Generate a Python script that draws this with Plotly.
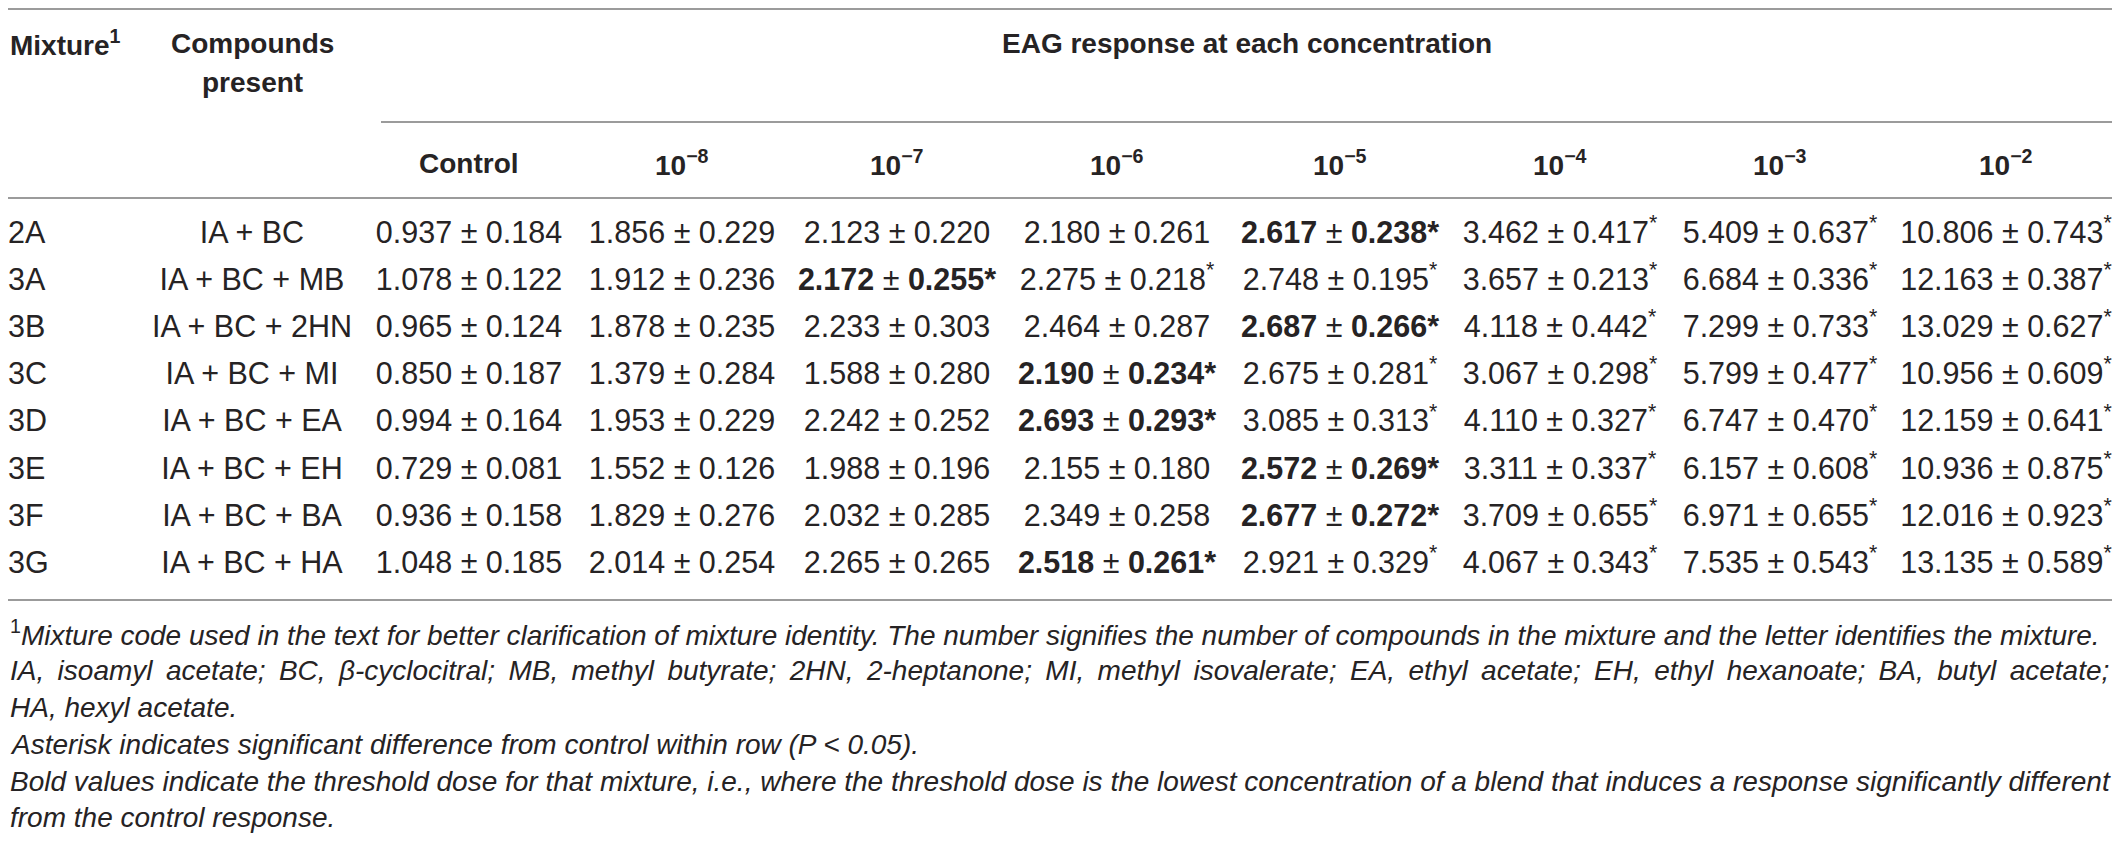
import plotly.graph_objects as go

# table content
mixtures = ["2A", "3A", "3B", "3C", "3D", "3E", "3F", "3G"]
compounds = ["IA + BC", "IA + BC + MB", "IA + BC + 2HN", "IA + BC + MI",
             "IA + BC + EA", "IA + BC + EH", "IA + BC + BA", "IA + BC + HA"]
conc_labels = ["Control", "10<sup>−8</sup>", "10<sup>−7</sup>", "10<sup>−6</sup>",
               "10<sup>−5</sup>", "10<sup>−4</sup>", "10<sup>−3</sup>", "10<sup>−2</sup>"]

means = [
    [0.937, 1.856, 2.123, 2.180, 2.617, 3.462, 5.409, 10.806],
    [1.078, 1.912, 2.172, 2.275, 2.748, 3.657, 6.684, 12.163],
    [0.965, 1.878, 2.233, 2.464, 2.687, 4.118, 7.299, 13.029],
    [0.850, 1.379, 1.588, 2.190, 2.675, 3.067, 5.799, 10.956],
    [0.994, 1.953, 2.242, 2.693, 3.085, 4.110, 6.747, 12.159],
    [0.729, 1.552, 1.988, 2.155, 2.572, 3.311, 6.157, 10.936],
    [0.936, 1.829, 2.032, 2.349, 2.677, 3.709, 6.971, 12.016],
    [1.048, 2.014, 2.265, 2.518, 2.921, 4.067, 7.535, 13.135],
]
sems = [
    [0.184, 0.229, 0.220, 0.261, 0.238, 0.417, 0.637, 0.743],
    [0.122, 0.236, 0.255, 0.218, 0.195, 0.213, 0.336, 0.387],
    [0.124, 0.235, 0.303, 0.287, 0.266, 0.442, 0.733, 0.627],
    [0.187, 0.284, 0.280, 0.234, 0.281, 0.298, 0.477, 0.609],
    [0.164, 0.229, 0.252, 0.293, 0.313, 0.327, 0.470, 0.641],
    [0.081, 0.126, 0.196, 0.180, 0.269, 0.337, 0.608, 0.875],
    [0.158, 0.276, 0.285, 0.258, 0.272, 0.655, 0.655, 0.923],
    [0.185, 0.254, 0.265, 0.261, 0.329, 0.343, 0.543, 0.589],
]
# column index of the threshold dose (bold); everything from it on is significant
threshold_col = [4, 2, 4, 3, 3, 4, 4, 3]

footnotes = [
    "<sup>1</sup><i>Mixture code used in the text for better clarification of mixture identity. "
    "The number signifies the number of compounds in the mixture and the letter identifies the mixture.</i>",
    "<i>IA, isoamyl acetate; BC, β-cyclocitral; MB, methyl butyrate; 2HN, 2-heptanone; MI, methyl isovalerate; "
    "EA, ethyl acetate; EH, ethyl hexanoate; BA, butyl acetate;</i>",
    "<i>HA, hexyl acetate.</i>",
    "<i>Asterisk indicates significant difference from control within row (P &lt; 0.05).</i>",
    "<i>Bold values indicate the threshold dose for that mixture, i.e., where the threshold dose is the lowest "
    "concentration of a blend that induces a response significantly different</i>",
    "<i>from the control response.</i>",
]
# lines that are stretched to the full width in the original (justified text)
justified = [False, True, False, False, False, False]

W, H = 2120, 841
PAD = 8  # default body margin of the html page
FONT = "Liberation Sans"
INK = "#262324"
RULE = "#9b9b9b"

col_x = [469, 682, 897, 1117, 1340, 1560, 1780, 2006]
row_y = [235 + 47.2 * i for i in range(len(mixtures))]


def cell(m, s, j, thr):
    if j == thr:
        return f"<b>{m:.3f}</b> ± <b>{s:.3f}*</b>"
    if j > thr:
        return f"{m:.3f} ± {s:.3f}<sup>*</sup>"
    return f"{m:.3f} ± {s:.3f}"


fig = go.Figure()

body_font = dict(family=FONT, size=30.5, color=INK)


def text_col(x, txt, pos):
    fig.add_trace(go.Scatter(x=[x] * len(txt), y=row_y, text=txt, mode="text",
                             textposition=pos, textfont=body_font, hoverinfo="skip",
                             cliponaxis=False))


text_col(8, mixtures, "middle right")
text_col(252, compounds, "middle center")
for j in range(len(conc_labels)):
    text_col(col_x[j], [cell(means[i][j], sems[i][j], j, threshold_col[i])
                        for i in range(len(mixtures))], "middle center")

head_font = dict(family=FONT, size=28, color=INK)
ann = [
    dict(x=8, y=43, text="Mixture<sup>1</sup>", xanchor="left"),
    dict(x=252, y=43, text="Compounds", xanchor="center"),
    dict(x=252, y=82, text="present", xanchor="center"),
    dict(x=1247, y=43, text="EAG response at each concentration", xanchor="center"),
]
for j, lab in enumerate(conc_labels):
    ann.append(dict(x=col_x[j], y=163, text=lab, xanchor="center"))
for a in ann:
    a["text"] = "<b>" + a["text"] + "</b>"
    fig.add_annotation(xref="x", yref="y", yanchor="middle", showarrow=False,
                       font=head_font, **a)

foot_y = [633, 670, 707, 744, 781, 817]
for yy, t, just in zip(foot_y, footnotes, justified):
    if just:
        t = t.replace(" ", " \u2009")
    fig.add_annotation(x=8, y=yy, xref="x", yref="y", text=t, xanchor="left", yanchor="middle",
                       showarrow=False, font=dict(family=FONT, size=28, color=INK))

# horizontal rules
for x0, yy in [(8, 9), (381, 122), (8, 198), (8, 600)]:
    fig.add_shape(type="line", x0=x0, x1=2112, y0=yy, y1=yy, xref="x", yref="y",
                  line=dict(color=RULE, width=2))

# the page puts the plot PAD px in from the window corner, so the axes are
# set up to read in window pixels
fig.update_layout(
    width=W - 2 * PAD, height=H - 2 * PAD,
    margin=dict(l=0, r=0, t=0, b=0),
    paper_bgcolor="white", plot_bgcolor="white",
    showlegend=False,
    xaxis=dict(range=[PAD, W - PAD], visible=False, fixedrange=True),
    yaxis=dict(range=[H - PAD, PAD], visible=False, fixedrange=True),
)

fig.write_html("out.html")
